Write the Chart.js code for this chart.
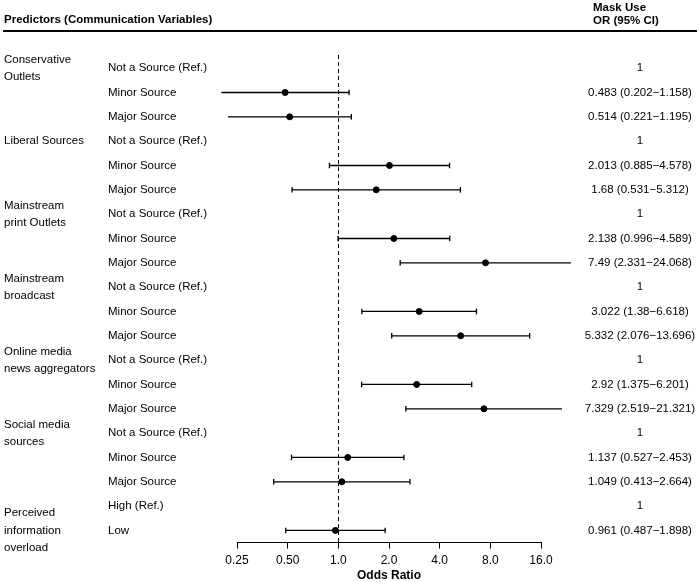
<!DOCTYPE html>
<html>
<head>
<meta charset="utf-8">
<script src="https://cdn.jsdelivr.net/npm/chart.js@4.4.0/dist/chart.umd.min.js"></script>
<style>
  html, body { margin: 0; padding: 0; background: #fff; }
  #wrap { width: 699px; height: 582px; }
</style>
</head>
<body>
<div id="wrap"><canvas id="forest"></canvas></div>
<script>
// rows of the forest plot, top to bottom
let rowLabels = ['Not a Source (Ref.)', 'Minor Source', 'Major Source',
                 'Not a Source (Ref.)', 'Minor Source', 'Major Source',
                 'Not a Source (Ref.)', 'Minor Source', 'Major Source',
                 'Not a Source (Ref.)', 'Minor Source', 'Major Source',
                 'Not a Source (Ref.)', 'Minor Source', 'Major Source',
                 'Not a Source (Ref.)', 'Minor Source', 'Major Source',
                 'High (Ref.)', 'Low'];
let oddsRatio = [1, 0.483, 0.514, 1, 2.013, 1.68, 1, 2.138, 7.49, 1, 3.022, 5.332,
                 1, 2.92, 7.329, 1, 1.137, 1.049, 1, 0.961];
let ciLow  = [null, 0.202, 0.221, null, 0.885, 0.531, null, 0.996, 2.331, null, 1.38, 2.076,
              null, 1.375, 2.519, null, 0.527, 0.413, null, 0.487];
let ciHigh = [null, 1.158, 1.195, null, 4.578, 5.312, null, 4.589, 24.068, null, 6.618, 13.696,
              null, 6.201, 21.321, null, 2.453, 2.664, null, 1.898];

// predictor groups and the row their label is centred on
let groupLabels = [['Conservative', 'Outlets'], ['Liberal Sources'], ['Mainstream', 'print Outlets'],
                   ['Mainstream', 'broadcast'], ['Online media', 'news aggregators'],
                   ['Social media', 'sources'], ['Perceived', 'information', 'overload']];
let groupRows = [0, 3, 6, 9, 12, 15, 19];

let tickValues = [0.25, 0.5, 1, 2, 4, 8, 16];
let tickLabels = ['0.25', '0.50', '1.0', '2.0', '4.0', '8.0', '16.0'];

let FONT = '"Liberation Sans", Arial, sans-serif';

let points = [];
let whiskers = [];
oddsRatio.forEach(function (v, i) {
    if (ciLow[i] === null) return;
    points.push({ x: v, y: i });
    whiskers.push({ x: ciLow[i], y: i }, { x: ciHigh[i], y: i }, { x: null, y: null });
});

let textPlugin = {
    id: 'forestText',
    beforeDatasetsDraw: function (chart) {
        let ctx = chart.ctx;
        let xs = chart.scales.x;
        // reference line at OR = 1
        ctx.save();
        ctx.strokeStyle = '#000';
        ctx.lineWidth = 1;
        ctx.setLineDash([4, 3]);
        ctx.beginPath();
        ctx.moveTo(Math.round(xs.getPixelForValue(1)) + 0.5, 55);
        ctx.lineTo(Math.round(xs.getPixelForValue(1)) + 0.5, chart.chartArea.bottom);
        ctx.stroke();
        ctx.restore();
    },
    afterDraw: function (chart) {
        let ctx = chart.ctx;
        let ys = chart.scales.y;
        ctx.save();
        ctx.fillStyle = '#000';
        ctx.textBaseline = 'middle';

        // header
        ctx.font = 'bold 11.5px ' + FONT;
        ctx.textAlign = 'left';
        ctx.fillText('Predictors (Communication Variables)', 4, 20);
        ctx.fillText('Mask Use', 593, 8);
        ctx.fillText('OR (95% CI)', 593, 21);
        ctx.lineWidth = 2;
        ctx.beginPath();
        ctx.moveTo(3, 31);
        ctx.lineTo(697, 31);
        ctx.stroke();

        ctx.font = '11.5px ' + FONT;
        groupLabels.forEach(function (lines, g) {
            let yc = ys.getPixelForValue(groupRows[g]);
            let step = 17.5;
            let y0 = yc - (lines.length - 1) * step / 2;
            if (lines.length === 2) y0 = yc - step / 2;
            lines.forEach(function (t, k) {
                ctx.fillText(t, 4, y0 + k * step);
            });
        });
        rowLabels.forEach(function (t, i) {
            ctx.textAlign = 'left';
            ctx.fillText(t, 108, ys.getPixelForValue(i));
            ctx.textAlign = 'center';
            let s = ciLow[i] === null ? String(oddsRatio[i])
                : oddsRatio[i] + ' (' + ciLow[i] + '\u2212' + ciHigh[i] + ')';
            ctx.fillText(s, 640, ys.getPixelForValue(i));
        });
        ctx.restore();
    }
};

let forest = new Chart(document.getElementById('forest').getContext('2d'), {
    type: 'scatter',
    data: {
        datasets: [
            {
                label: 'CI',
                data: whiskers,
                showLine: true,
                spanGaps: false,
                borderColor: '#000',
                borderWidth: 1.3,
                pointStyle: 'line',
                rotation: 90,
                pointRadius: 2.8,
                pointBorderWidth: 1.3,
                pointBorderColor: '#000',
                clip: false
            },
            {
                label: 'OR',
                data: points,
                pointStyle: 'circle',
                pointRadius: 3,
                pointBackgroundColor: '#000',
                pointBorderColor: '#000',
                clip: false
            }
        ]
    },
    options: {
        responsive: true,
        maintainAspectRatio: false,
        animation: false,
        layout: { padding: { left: 237, right: 158, top: 56, bottom: 0 } },
        plugins: {
            legend: { display: false },
            tooltip: { enabled: false }
        },
        scales: {
            x: {
                type: 'logarithmic',
                min: 0.25,
                max: 16,
                afterBuildTicks: function (axis) {
                    axis.ticks = tickValues.map(function (v) { return { value: v }; });
                },
                ticks: {
                    color: '#000',
                    padding: 5,
                    maxRotation: 0,
                    autoSkip: false,
                    font: { family: FONT, size: 12 },
                    callback: function (value) {
                        let i = tickValues.indexOf(value);
                        return i >= 0 ? tickLabels[i] : '';
                    }
                },
                grid: {
                    drawOnChartArea: false,
                    drawTicks: true,
                    tickLength: 6,
                    color: '#000',
                    lineWidth: 1
                },
                border: { display: true, color: '#000', width: 1 },
                title: {
                    display: true,
                    text: 'Odds Ratio',
                    color: '#000',
                    padding: { top: -3, bottom: 0 },
                    font: { family: FONT, size: 12, weight: 'bold', lineHeight: 1 }
                }
            },
            y: {
                type: 'linear',
                reverse: true,
                min: -0.5,
                max: 19.5,
                display: false
            }
        }
    },
    plugins: [textPlugin]
});
</script>
</body>
</html>
